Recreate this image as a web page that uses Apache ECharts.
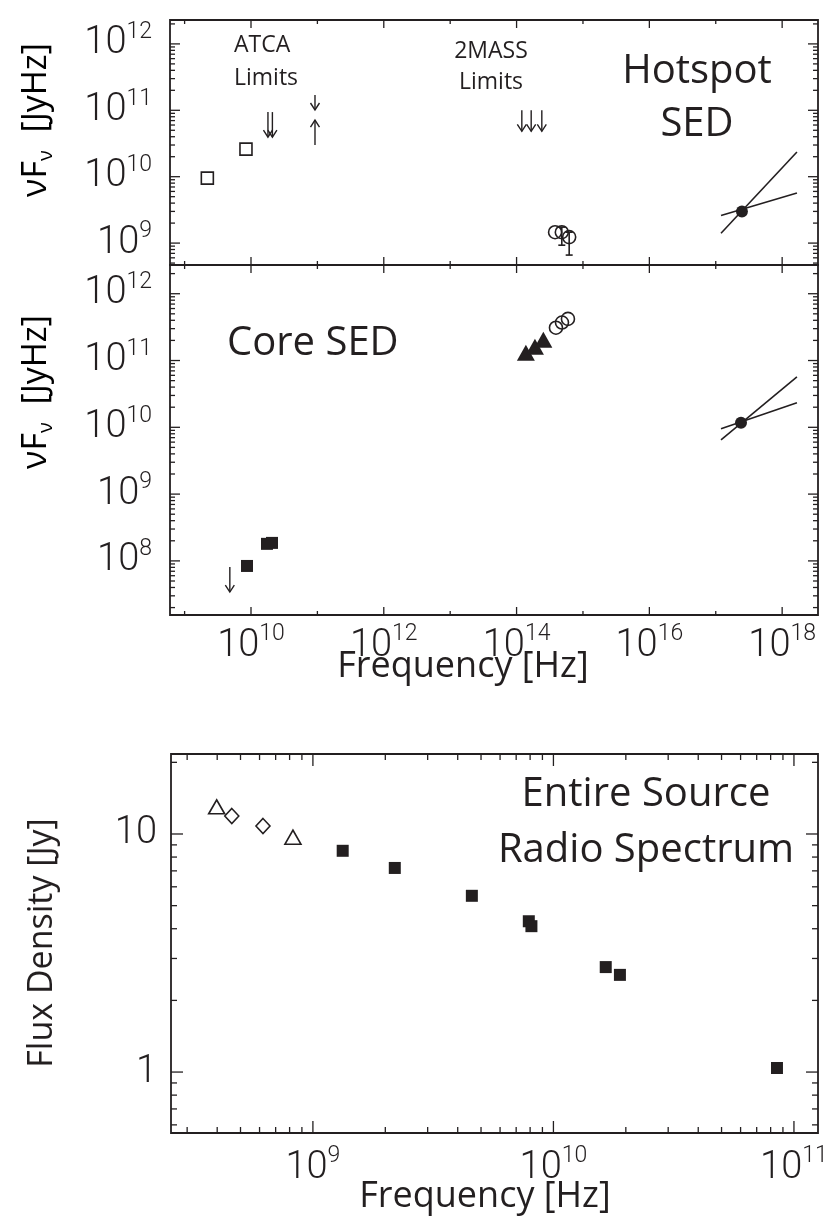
<!DOCTYPE html>
<html>
<head>
<meta charset="utf-8">
<script src="https://cdn.jsdelivr.net/npm/echarts@6/dist/echarts.min.js"></script>
<style>
  html, body { margin: 0; padding: 0; background: #fff; }
  #main { width: 830px; height: 1228px; }
</style>
</head>
<body>
<div id="main"></div>
<script>
// Hotspot SED (top panel) - frequency [Hz], nuFnu [Jy Hz]
var hotRadio = [[2.2e9, 9.5e9], [8.4e9, 2.6e10]];
var hotAtcaUpper = [[1.8e10, 9.4e10], [2.1e10, 9.4e10]];
var hotAtcaUpperHigh = [[9.2e10, 1.7e11]];
var hotAtcaLower = [[9.2e10, 3.0e10]];
var hot2massUpper = [[1.2e14, 1.0e11], [1.66e14, 1.0e11], [2.4e14, 1.0e11]];
var hotOptical = [[3.8e14, 1.46e9], [4.8e14, 1.46e9], [6.2e14, 1.23e9]];
var hotOpticalErr = [[4.8e14, 0.93e9, 1.74e9], [6.2e14, 0.66e9, 1.46e9]]; // x, low, high
var hotXray = [[2.48e17, 3.0e9]];
var hotBowSteep = [[1.2e17, 1.41e9], [1.67e18, 2.35e10]];
var hotBowFlat = [[1.2e17, 2.6e9], [1.67e18, 5.66e9]];

// Core SED (middle panel)
var coreRadio = [[8.7e9, 8.4e7], [1.74e10, 1.8e8], [2.07e10, 1.86e8]];
var coreUpper = [[4.8e9, 8.1e7]];
var coreIR = [[1.38e14, 1.31e11], [1.89e14, 1.61e11], [2.53e14, 2.04e11]];
var coreOptical = [[3.92e14, 3.1e11], [4.83e14, 3.7e11], [5.94e14, 4.2e11]];
var coreXray = [[2.4e17, 1.17e10]];
var coreBowSteep = [[1.2e17, 6.5e9], [1.67e18, 5.7e10]];
var coreBowFlat = [[1.2e17, 9.5e9], [1.67e18, 2.33e10]];

// Entire source radio spectrum (bottom panel) - frequency [Hz], flux [Jy]
var radioTriangles = [[3.98e8, 13.0], [8.26e8, 9.7]];
var radioDiamonds = [[4.6e8, 11.9], [6.2e8, 10.8]];
var radioSquares = [[1.33e9, 8.5], [2.19e9, 7.2], [4.58e9, 5.5], [7.9e9, 4.3], [8.1e9, 4.1],
                    [1.65e10, 2.76], [1.89e10, 2.56], [8.5e10, 1.04]];

// tick values
var sedFreqMajor = [1e10, 1e12, 1e14, 1e16, 1e18];
var sedFreqMinor = [1e9, 1e11, 1e13, 1e15, 1e17];
var hotFluxMajor = [1e9, 1e10, 1e11, 1e12];
var coreFluxMajor = [1e8, 1e9, 1e10, 1e11, 1e12];
var radioFreqMajor = [1e9, 1e10, 1e11];
var radioFluxMajor = [1, 10];

var INK = '#231f20';
var NUM_FONT = 'Roboto, "Liberation Sans", Arial, sans-serif';
var TXT_FONT = '"Open Sans", "Noto Sans", sans-serif';

function minors(fromExp, toExp) {
  var out = [];
  for (var e = fromExp; e <= toExp; e++) {
    for (var k = 2; k <= 9; k++) out.push(k * Math.pow(10, e));
  }
  return out;
}

var RICH = {
  b: { fontFamily: NUM_FONT, fontWeight: 300, fontSize: 38, color: INK, lineHeight: 46 },
  s: { fontFamily: NUM_FONT, fontWeight: 300, fontSize: 23, color: INK, lineHeight: 23, verticalAlign: 'top' }
};

function powLabel(v) {
  var e = Math.log10(v), r = Math.round(e);
  if (Math.abs(e - r) > 1e-6) return '';
  return '{b|10}{s|' + r + '}';
}
function evenPowLabel(v) {
  var e = Math.log10(v), r = Math.round(e);
  if (Math.abs(e - r) > 1e-6 || r % 2 !== 0) return '';
  return '{b|10}{s|' + r + '}';
}
function plainLabel(v) {
  if (Math.abs(v - 1) < 1e-6) return '{b|1}';
  if (Math.abs(v - 10) < 1e-6) return '{b|10}';
  return '';
}

function logAxis(gi, lo, hi, fmt, margin) {
  return {
    type: 'log', logBase: 10, gridIndex: gi, min: Math.pow(10, lo), max: Math.pow(10, hi),
    splitNumber: 10,
    axisLine: { show: false }, axisTick: { show: false }, splitLine: { show: false },
    axisLabel: fmt ? { formatter: fmt, rich: RICH, margin: margin, color: INK } : { show: false }
  };
}

// frame ticks on all four sides, placed through the axes
function frameTicks(gi, anchor, xMaj, xMin, yMaj, yMin, lens) {
  return {
    type: 'custom', xAxisIndex: gi, yAxisIndex: gi, silent: true, clip: false, z: 10,
    data: [anchor],
    renderItem: function (params, api) {
      var cs = params.coordSys, kids = [];
      var x0 = cs.x, x1 = cs.x + cs.width, y0 = cs.y, y1 = cs.y + cs.height;
      function seg(a, b, c, d) {
        kids.push({ type: 'line', shape: { x1: a, y1: b, x2: c, y2: d }, style: { stroke: INK, lineWidth: 1.3 } });
      }
      function xt(list, len) {
        list.forEach(function (v) {
          var px = api.coord([v, anchor[1]])[0];
          if (px < x0 + 1 || px > x1 - 1) return;
          seg(px, y1, px, y1 - len); seg(px, y0, px, y0 + len);
        });
      }
      function yt(list, len) {
        list.forEach(function (v) {
          var py = api.coord([anchor[0], v])[1];
          if (py < y0 + 1 || py > y1 - 1) return;
          seg(x0, py, x0 + len, py); seg(x1, py, x1 - len, py);
        });
      }
      xt(xMaj, lens[0]); xt(xMin, lens[1]); yt(yMaj, lens[2]); yt(yMin, lens[3]);
      return { type: 'group', children: kids };
    }
  };
}

// limit arrows: dir 1 points down (upper limit), -1 points up (lower limit)
function arrows(gi, data, dir, len) {
  return {
    type: 'custom', xAxisIndex: gi, yAxisIndex: gi, silent: true, z: 6, data: data,
    renderItem: function (params, api) {
      var p = api.coord([api.value(0), api.value(1)]);
      var hw = 4.5, hh = 7;
      var tx = p[0], ty = p[1] + dir * len;
      return {
        type: 'group', children: [
          { type: 'line', shape: { x1: p[0], y1: p[1], x2: tx, y2: ty }, style: { stroke: INK, lineWidth: 1.4 } },
          { type: 'polyline', shape: { points: [[tx - hw, ty - dir * hh], [tx, ty], [tx + hw, ty - dir * hh]] },
            style: { stroke: INK, fill: 'none', lineWidth: 1.4 } }
        ]
      };
    }
  };
}

function errorBars(gi, data) {
  return {
    type: 'custom', xAxisIndex: gi, yAxisIndex: gi, silent: true, z: 6, data: data,
    renderItem: function (params, api) {
      var lo = api.coord([api.value(0), api.value(1)]);
      var hi = api.coord([api.value(0), api.value(2)]);
      var w = 3.5, st = { stroke: INK, lineWidth: 1.6 };
      return {
        type: 'group', children: [
          { type: 'line', shape: { x1: lo[0], y1: lo[1], x2: hi[0], y2: hi[1] }, style: st },
          { type: 'line', shape: { x1: lo[0] - w, y1: lo[1], x2: lo[0] + w, y2: lo[1] }, style: st },
          { type: 'line', shape: { x1: hi[0] - w, y1: hi[1], x2: hi[0] + w, y2: hi[1] }, style: st }
        ]
      };
    }
  };
}

function pts(gi, data, symbol, size, filled) {
  return {
    type: 'scatter', xAxisIndex: gi, yAxisIndex: gi, data: data, symbol: symbol, symbolSize: size,
    silent: true, z: 5,
    itemStyle: filled ? { color: INK, borderColor: INK, borderWidth: 0, opacity: 1 }
                      : { color: 'rgba(0,0,0,0)', borderColor: INK, borderWidth: 1.6, opacity: 1 }
  };
}

function seg2(gi, data) {
  return {
    type: 'line', xAxisIndex: gi, yAxisIndex: gi, data: data, symbol: 'none', silent: true, z: 4,
    lineStyle: { color: INK, width: 1.6 }
  };
}

var frame = { show: true, borderColor: INK, borderWidth: 1.8, backgroundColor: 'rgba(0,0,0,0)', outerBoundsMode: 'none' };
var nuRich = {
  a: { fontFamily: TXT_FONT, fontSize: 34, color: INK, lineHeight: 40 },
  u: { fontFamily: TXT_FONT, fontSize: 20, color: INK, lineHeight: 34, verticalAlign: 'bottom' }
};

var chart = echarts.init(document.getElementById('main'));
chart.setOption({
  animation: false,
  backgroundColor: '#fff',
  grid: [
    Object.assign({ left: 170, top: 20, width: 648, height: 245 }, frame),
    Object.assign({ left: 170, top: 265, width: 648, height: 350 }, frame),
    Object.assign({ left: 171, top: 754, width: 647, height: 379 }, frame)
  ],
  xAxis: [
    logAxis(0, 8.78, 18.54, null),
    logAxis(1, 8.78, 18.54, evenPowLabel, 8),
    logAxis(2, 8.41, 11.10, powLabel, 12)
  ],
  yAxis: [
    logAxis(0, 8.67, 12.36, powLabel, 18),
    logAxis(1, 7.19, 12.43, powLabel, 18),
    logAxis(2, -0.256, 1.336, plainLabel, 14)
  ],
  graphic: [
    { type: 'text', x: 234, y: 62, style: { text: 'ATCA\nLimits', font: '23px ' + TXT_FONT, fill: INK, lineHeight: 33, align: 'left', verticalAlign: 'middle' } },
    { type: 'text', x: 491, y: 67, style: { text: '2MASS\nLimits', font: '23px ' + TXT_FONT, fill: INK, lineHeight: 31, align: 'center', verticalAlign: 'middle' } },
    { type: 'text', x: 697, y: 98, style: { text: 'Hotspot\nSED', font: '40px ' + TXT_FONT, fill: INK, lineHeight: 53, align: 'center', verticalAlign: 'middle' } },
    { type: 'text', x: 227, y: 344, style: { text: 'Core SED', font: '40px ' + TXT_FONT, fill: INK, align: 'left', verticalAlign: 'middle' } },
    { type: 'text', x: 646, y: 823, style: { text: 'Entire Source\nRadio Spectrum', font: '40px ' + TXT_FONT, fill: INK, lineHeight: 56, align: 'center', verticalAlign: 'middle' } },
    { type: 'text', x: 463, y: 667, style: { text: 'Frequency [Hz]', font: '36px ' + TXT_FONT, fill: INK, align: 'center', verticalAlign: 'middle' } },
    { type: 'text', x: 485, y: 1197, style: { text: 'Frequency [Hz]', font: '36px ' + TXT_FONT, fill: INK, align: 'center', verticalAlign: 'middle' } },
    { type: 'text', x: 42, y: 943, rotation: Math.PI / 2, style: { text: 'Flux Density [Jy]', font: '34px ' + TXT_FONT, fill: INK, align: 'center', verticalAlign: 'middle' } },
    { type: 'text', x: 36, y: 120, rotation: Math.PI / 2, style: { text: '{a|νF}{u|ν}{a|  [JyHz]}', align: 'center', verticalAlign: 'middle', rich: nuRich } },
    { type: 'text', x: 36, y: 392, rotation: Math.PI / 2, style: { text: '{a|νF}{u|ν}{a|  [JyHz]}', align: 'center', verticalAlign: 'middle', rich: nuRich } }
  ],
  series: [
    frameTicks(0, [1e12, 1e10], sedFreqMajor, sedFreqMinor, hotFluxMajor, minors(8, 12), [8, 4, 10, 5]),
    frameTicks(1, [1e12, 1e10], sedFreqMajor, sedFreqMinor, coreFluxMajor, minors(7, 12), [8, 4, 10, 5]),
    frameTicks(2, [1e10, 3], radioFreqMajor, minors(8, 11), radioFluxMajor, minors(-1, 1), [12, 6, 12, 6]),

    pts(0, hotRadio, 'rect', 12, false),
    arrows(0, hotAtcaUpper, 1, 25),
    arrows(0, hotAtcaUpperHigh, 1, 15),
    arrows(0, hot2massUpper, 1, 21),
    arrows(0, hotAtcaLower, -1, 25),
    errorBars(0, hotOpticalErr),
    pts(0, hotOptical, 'circle', 13, false),
    seg2(0, hotBowSteep),
    seg2(0, hotBowFlat),
    pts(0, hotXray, 'circle', 12, true),

    pts(1, coreRadio, 'rect', 12, true),
    arrows(1, coreUpper, 1, 25),
    pts(1, coreIR, 'triangle', [18, 16], true),
    pts(1, coreOptical, 'circle', 13, false),
    seg2(1, coreBowSteep),
    seg2(1, coreBowFlat),
    pts(1, coreXray, 'circle', 12, true),

    pts(2, radioTriangles, 'triangle', [16, 14], false),
    pts(2, radioDiamonds, 'diamond', [14, 15], false),
    pts(2, radioSquares, 'rect', 12, true)
  ]
});
</script>
</body>
</html>
